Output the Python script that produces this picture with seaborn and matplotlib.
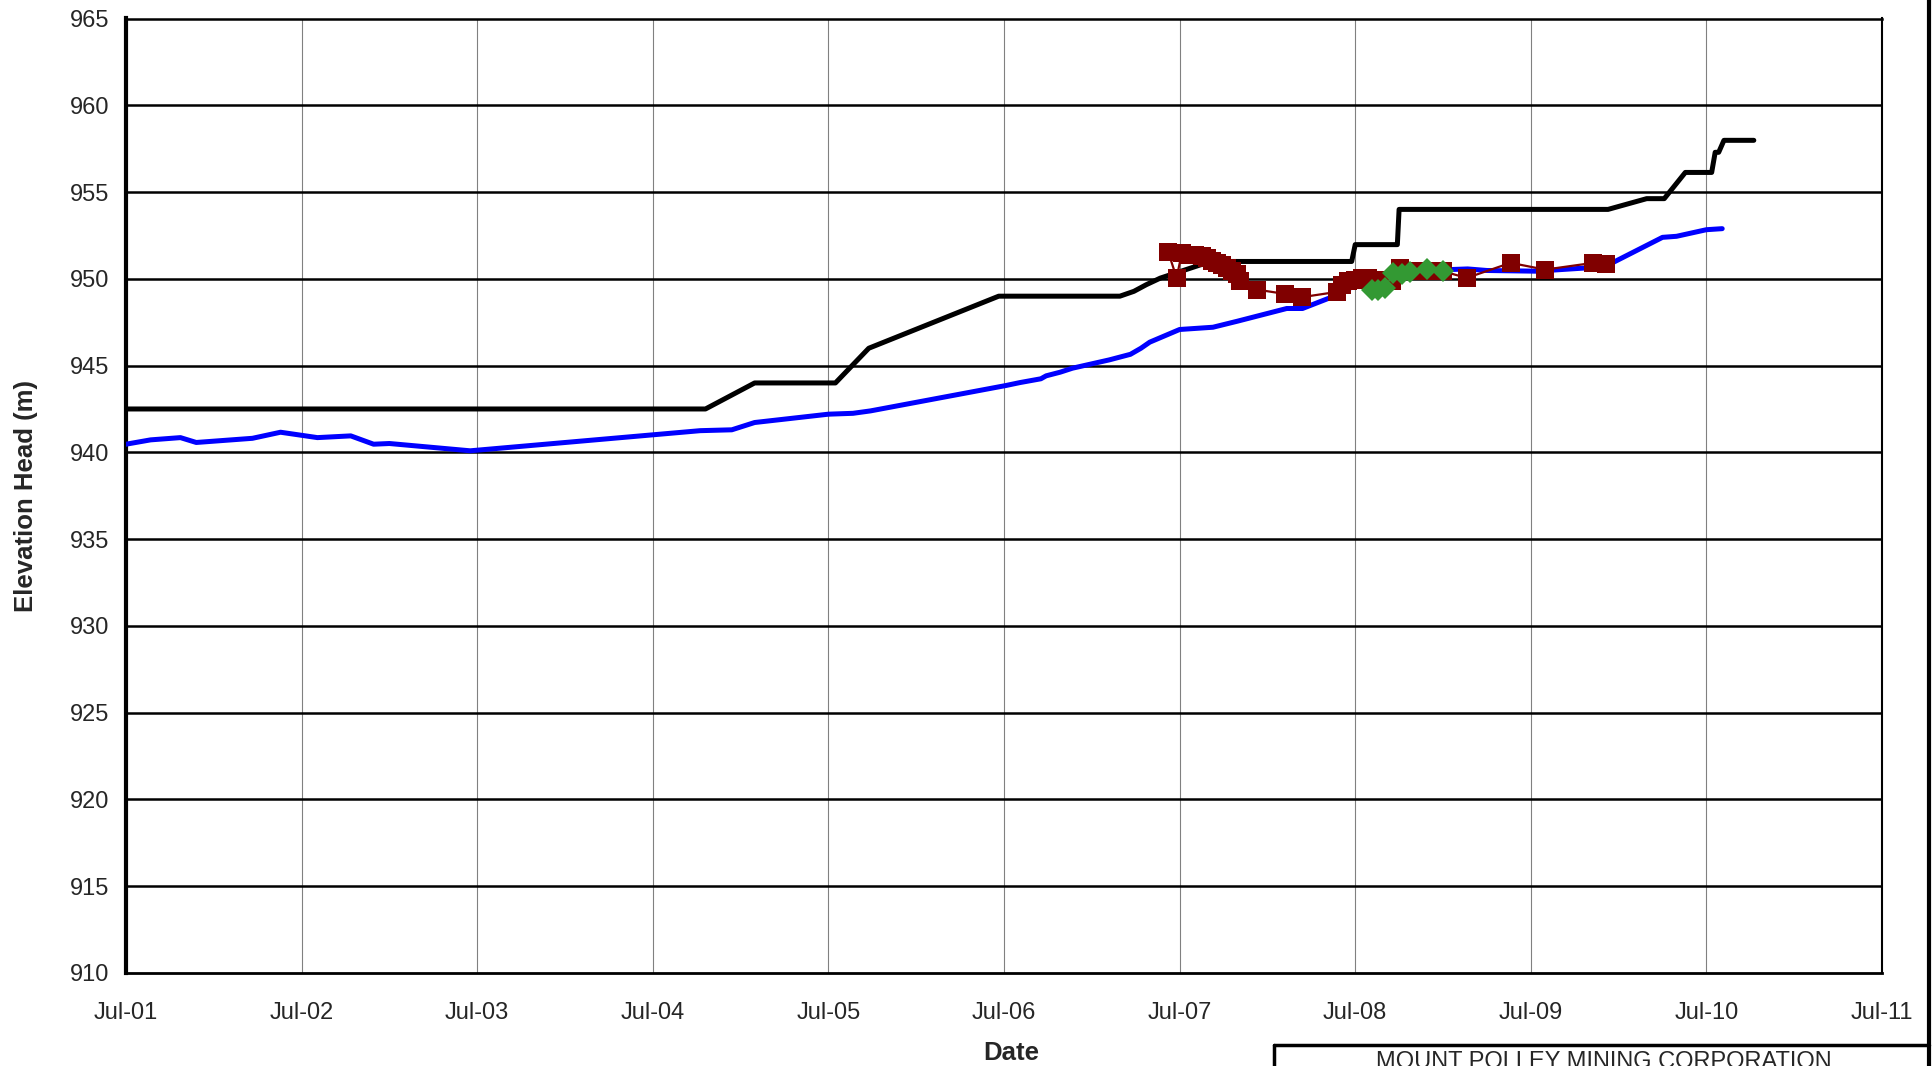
import matplotlib.pyplot as plt
import matplotlib.lines as mlines
import pandas as pd
import seaborn as sns

# Piezometer record, x in decimal years
blue_x = [2001.50, 2001.64, 2001.81, 2001.90, 2002.22, 2002.38, 2002.59, 2002.78, 2002.91,
          2003.00, 2003.46, 2004.77, 2004.95, 2005.08, 2005.50, 2005.64, 2005.74, 2006.51,
          2006.59, 2006.71, 2006.74, 2006.82, 2006.89, 2007.10, 2007.22, 2007.28, 2007.33,
          2007.50, 2007.69, 2007.83, 2008.11, 2008.20, 2008.38, 2008.49, 2008.68, 2009.06,
          2009.14, 2009.25, 2009.53, 2009.82, 2009.97, 2010.25, 2010.33, 2010.50, 2010.59]
blue_y = [940.47, 940.72, 940.85, 940.57, 940.81, 941.16, 940.85, 940.95, 940.47,
          940.51, 940.09, 941.25, 941.30, 941.72, 942.20, 942.25, 942.39, 943.85,
          944.02, 944.24, 944.41, 944.62, 944.85, 945.33, 945.65, 946.00, 946.35,
          947.08, 947.21, 947.56, 948.29, 948.29, 949.00, 949.57, 950.25, 950.54,
          950.57, 950.48, 950.44, 950.63, 950.95, 952.39, 952.45, 952.83, 952.89]

# Dam crest elevation
black_x = [2001.50, 2004.80, 2005.08, 2005.54, 2005.73, 2006.47, 2007.16, 2007.24, 2007.31,
           2007.39, 2007.62, 2007.73, 2008.48, 2008.50, 2008.74, 2008.75, 2009.61, 2009.94,
           2010.16, 2010.26, 2010.38, 2010.53, 2010.55, 2010.57, 2010.60, 2010.77]
black_y = [942.50, 942.50, 944.00, 944.00, 946.00, 949.00, 949.00, 949.28, 949.66,
           950.04, 950.81, 951.00, 951.00, 951.97, 951.97, 954.00, 954.00, 954.00,
           954.62, 954.62, 956.13, 956.13, 957.29, 957.29, 957.98, 957.98]

# Manual readings
red_x = [2007.436, 2007.483, 2007.512, 2007.550, 2007.588, 2007.626, 2007.654, 2007.683,
         2007.711, 2007.740, 2007.768, 2007.797, 2007.825, 2007.844, 2007.939, 2008.100,
         2008.195, 2008.398, 2008.423, 2008.461, 2008.499, 2008.537, 2008.575, 2008.613,
         2008.660, 2008.708, 2008.755, 2008.821, 2008.907, 2008.998, 2009.135, 2009.385,
         2009.581, 2009.856, 2009.928]
red_y = [951.53, 950.05, 951.46, 951.40, 951.40, 951.34, 951.21, 951.05,
         950.92, 950.77, 950.63, 950.44, 950.25, 949.86, 949.38, 949.13,
         948.94, 949.25, 949.67, 949.86, 949.96, 950.02, 950.02, 949.96,
         949.96, 949.86, 950.63, 950.44, 950.44, 950.44, 950.05, 950.92,
         950.53, 950.92, 950.88]

green_x = [2008.594, 2008.632, 2008.670, 2008.717, 2008.765, 2008.812, 2008.907, 2009.002]
green_y = [949.38, 949.38, 949.48, 950.34, 950.25, 950.40, 950.57, 950.44]

tick_pos = [2001.5 + i for i in range(11)]
tick_labels = ["Jul-01", "Jul-02", "Jul-03", "Jul-04", "Jul-05", "Jul-06",
               "Jul-07", "Jul-08", "Jul-09", "Jul-10", "Jul-11"]
y_ticks = list(range(910, 966, 5))

sns.set_style("white")
plt.rcParams["font.family"] = ["Liberation Sans", "DejaVu Sans"]

fig = plt.figure(figsize=(19.33, 10.66), dpi=100)
ax = fig.add_axes([126 / 1933, 1 - 973 / 1066, 1756 / 1933, 954.5 / 1066])

df_blue = pd.DataFrame({"x": blue_x, "y": blue_y})
df_black = pd.DataFrame({"x": black_x, "y": black_y})
df_red = pd.DataFrame({"x": red_x, "y": red_y})
df_green = pd.DataFrame({"x": green_x, "y": green_y})

sns.lineplot(data=df_blue, x="x", y="y", ax=ax, color="#0000ff", linewidth=3.6,
             sort=False, estimator=None, zorder=3)
sns.lineplot(data=df_black, x="x", y="y", ax=ax, color="black", linewidth=3.6,
             sort=False, estimator=None, zorder=4)
sns.lineplot(data=df_red, x="x", y="y", ax=ax, color="#800000", linewidth=1.6,
             marker="s", markersize=13, markeredgewidth=0, sort=False,
             estimator=None, zorder=5)
sns.lineplot(data=df_green, x="x", y="y", ax=ax, color="#339933", linewidth=1,
             marker="D", markersize=11, markeredgewidth=0, sort=False,
             estimator=None, zorder=6)

ax.set_xlim(2001.5, 2011.5)
ax.set_ylim(910, 965)
ax.set_xticks(tick_pos)
ax.set_xticklabels(tick_labels)
ax.set_yticks(y_ticks)

for yv in y_ticks[1:]:
    ax.axhline(yv, color="black", linewidth=1.8, zorder=1)
for xv in tick_pos[1:-1]:
    ax.axvline(xv, color="#808080", linewidth=0.8, zorder=0.5)

ax.tick_params(axis="both", labelsize=17, direction="out", length=5, width=1.5,
               color="black")
ax.tick_params(axis="x", pad=16)
ax.tick_params(axis="y", pad=7)
ax.spines["left"].set_linewidth(3)
ax.spines["bottom"].set_linewidth(2)
ax.spines["right"].set_linewidth(1.5)
ax.spines["top"].set_linewidth(1.8)
for s in ax.spines.values():
    s.set_color("black")

ax.set_xlabel("Date", fontsize=18.5, fontweight="bold")
ax.set_ylabel("Elevation Head (m)", fontsize=18.5, fontweight="bold")
ax.xaxis.set_label_coords(0.504, -0.071)
ax.yaxis.set_label_coords(-0.05, 0.5)

# title block at bottom right, cut off by the page edge
fig.add_artist(mlines.Line2D([1929 / 1933, 1929 / 1933], [0, 1], color="black",
                             linewidth=3, transform=fig.transFigure))
fig.add_artist(mlines.Line2D([1274 / 1933, 1929 / 1933], [1 - 1045 / 1066, 1 - 1045 / 1066],
                             color="black", linewidth=2.5, transform=fig.transFigure))
fig.add_artist(mlines.Line2D([1274 / 1933, 1274 / 1933], [0, 1 - 1045 / 1066],
                             color="black", linewidth=2.5, transform=fig.transFigure))
fig.text(1604 / 1933, 1 - 1051 / 1066, "MOUNT POLLEY MINING CORPORATION",
         fontsize=17, ha="center", va="top")

fig.savefig("out.png", dpi=100)
